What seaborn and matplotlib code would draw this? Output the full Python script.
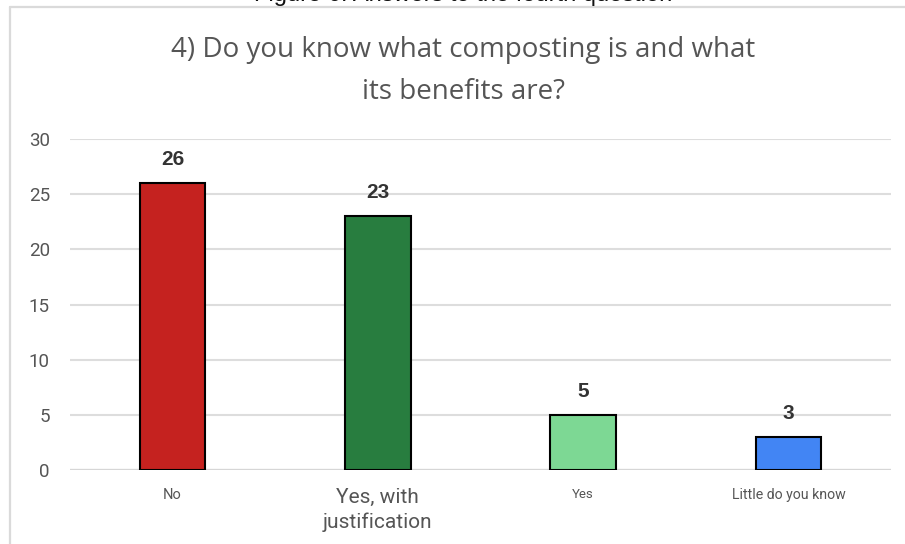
import matplotlib
matplotlib.use("Agg")
import matplotlib.pyplot as plt
from matplotlib.lines import Line2D
import seaborn as sns
import pandas as pd

# Survey answers to question 4
categories = ["No", "Yes, with\njustification", "Yes", "Little do you know"]
counts = [26, 23, 5, 3]
bar_colors = ["#C5221F", "#287D3F", "#7DD894", "#4285F4"]
tick_sizes = [10.5, 15, 9.5, 10.2]
y_ticks = [0, 5, 10, 15, 20, 25, 30]

sns.set_theme(style="white")
plt.rcParams["font.family"] = ["Roboto", "DejaVu Sans"]

W, H = 905, 544
fig = plt.figure(figsize=(W / 100, H / 100), dpi=100)
fig.patch.set_facecolor("white")

# card outline (left and top edges)
card_col = "#dadada"
fig.add_artist(Line2D([10 / W, 10 / W], [0, 1 - 7 / H], color=card_col, lw=1.6,
                      transform=fig.transFigure))
fig.add_artist(Line2D([10 / W, 1], [1 - 7 / H, 1 - 7 / H], color=card_col, lw=1.6,
                      transform=fig.transFigure))

# figure caption above the card
fig.text(463 / W, 1 - 1 / H, "Figure 6: Answers to the fourth question",
         ha="center", va="baseline", fontsize=17, color="#111111",
         family=["Liberation Sans", "DejaVu Sans"])

ax = fig.add_axes([70 / W, 1 - 470 / H, (891 - 70) / W, (470 - 139) / H])

df = pd.DataFrame({"answer": categories, "count": counts})
sns.barplot(data=df, x="answer", y="count", hue="answer", palette=bar_colors,
            legend=False, width=0.32, edgecolor="black", linewidth=1.5,
            saturation=1, ax=ax, zorder=3)

ax.set_xlim(-0.5, len(categories) - 0.5)
ax.set_ylim(0, 30)
ax.set_yticks(y_ticks)
ax.set_yticklabels([str(t) for t in y_ticks], fontsize=13.5, color="#555555")
ax.tick_params(axis="y", length=0, pad=14.5)
ax.tick_params(axis="x", length=0, pad=13)
ax.set_xticks(range(len(categories)))
ax.set_xticklabels(categories, color="#555555", linespacing=1.35, va="top")
for lab, fs in zip(ax.get_xticklabels(), tick_sizes):
    lab.set_fontsize(fs)

ax.yaxis.grid(True, color="#dddddd", lw=1.5, zorder=0)
ax.set_axisbelow(True)
for s in ax.spines.values():
    s.set_visible(False)
ax.axhline(0, color="#d6d6d6", lw=1.6, zorder=2)
ax.set_xlabel("")
ax.set_ylabel("")

# value labels above bars
for i, v in enumerate(counts):
    ax.annotate(str(v), (i, v), xytext=(0, 10), textcoords="offset points",
                ha="center", va="bottom", fontsize=15, fontweight="bold",
                color="#333333", family=["Liberation Sans", "DejaVu Sans"])

title_font = ["Open Sans", "DejaVu Sans"]
fig.text(463 / W, 1 - 50 / H, "4) Do you know what composting is and what",
         ha="center", va="center", fontsize=20, color="#555555", family=title_font)
fig.text(463 / W, 1 - 92 / H, "its benefits are?",
         ha="center", va="center", fontsize=20, color="#555555", family=title_font)

fig.savefig("out.png", dpi=100, facecolor="white")
